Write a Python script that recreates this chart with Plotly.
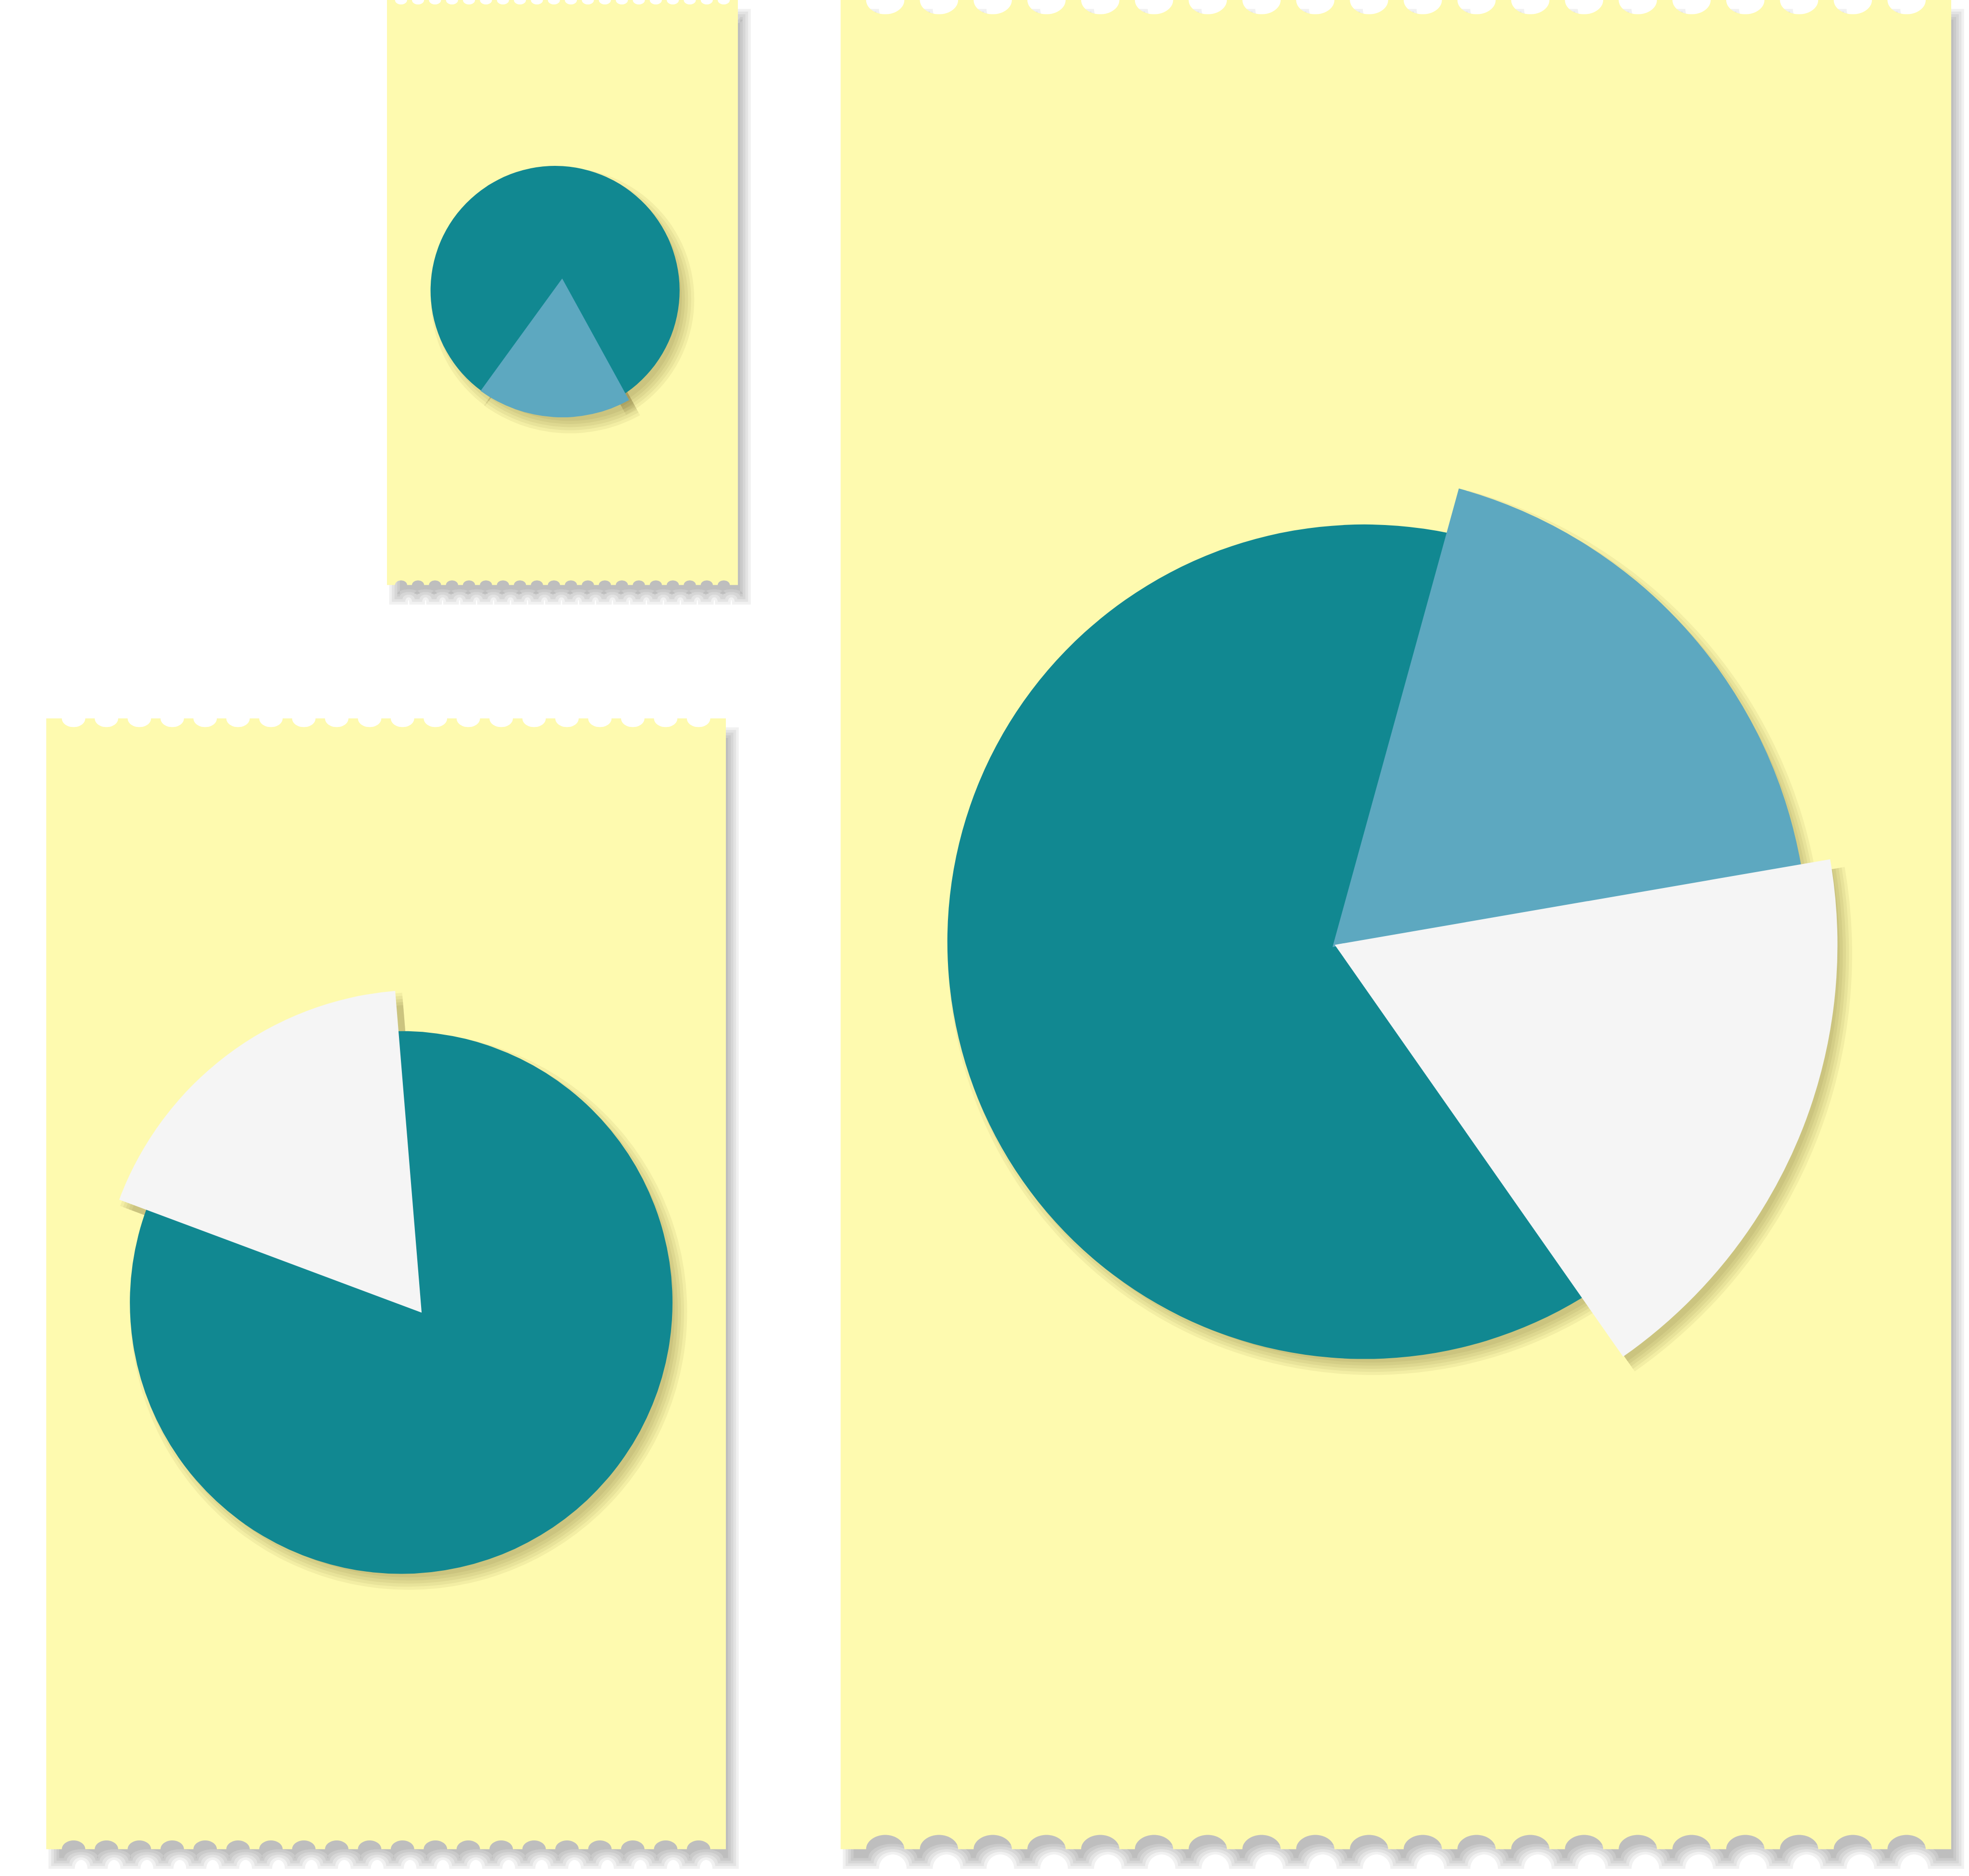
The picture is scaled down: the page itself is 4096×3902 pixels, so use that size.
import numpy as np
import plotly.graph_objects as go

W, H = 4096, 3902
REF_W, REF_H = 4427.0, 4217.3
K = W / REF_W

# ---------------- data ----------------
colors = {"A": "#118891", "B": "#5DA8C0", "C": "#F5F5F5"}

small_cats = ["B", "A"]
small_values = [18, 82]
small_radius = [111.5, 100]

left_cats = ["C", "A"]
left_values = [18, 82]
left_radius = [119, 100]

big_cats = ["B", "C", "A"]
big_values = [18, 18, 64]
big_radius = [114, 120.5, 100]

# ---------------- layout / style ----------------
YELLOW = "#FEFAAF"
RMAX = 130.0
pies = [
    dict(cats=small_cats, values=small_values, radius=small_radius,
         center=(1248, 653), unit=2.8, start=-61.2, apex={"B": (1264, 626)}),
    dict(cats=left_cats, values=left_values, radius=left_radius,
         center=(902, 2928), unit=6.1, start=159.5, apex={"C": (948, 2951)}),
    dict(cats=big_cats, values=big_values, radius=big_radius,
         center=(3068, 2117), unit=9.38, start=74.6,
         apex={"B": (2996, 2129), "C": (3001, 2124)}),
]
panels = [(870, 0, 1659, 1315), (104, 1615, 1632, 4157), (1890, 0, 4387, 4157)]


def px(x, y):
    return f"{x / REF_W:.6f},{1 - y / REF_H:.6f}"


def panel_path(x0, y0, x1, y1, e=0.0, ox=0.0, oy=0.0, n=20):
    w = x1 - x0
    s = w / 20.66
    m = (w - (n - 1) * s) / 2
    rx = 0.356 * s
    ry = 0.265 * s
    rxe = max(rx - e, 1.0)
    X0, X1, Y0, Y1 = x0 - e + ox, x1 + e + ox, y0 - e + oy, y1 + e + oy
    centers = [x0 + m + i * s + ox for i in range(n)]
    pts = [(X0, Y0)]
    t = np.linspace(np.pi, 0, 28)
    for c in centers:
        for tt in t:
            pts.append((c + rxe * np.cos(tt), Y0 + ry * np.sin(tt)))
    pts.append((X1, Y0))
    pts.append((X1, Y1))
    t2 = np.linspace(0, np.pi, 28)
    for c in reversed(centers):
        for tt in t2:
            pts.append((c + rxe * np.cos(tt), Y1 - ry * np.sin(tt)))
    pts.append((X0, Y1))
    return "M " + " L ".join(px(x, y) for x, y in pts) + " Z"


shapes = []
# panel shadows (layered to fake blur)
for (x0, y0, x1, y1) in panels:
    for e in (-12, -6, 0, 6, 12):
        shapes.append(dict(type="path", path=panel_path(x0, y0, x1, y1, e=e, ox=17, oy=32),
                           xref="paper", yref="paper", fillcolor="rgba(0,0,0,0.053)",
                           line=dict(width=0), layer="below"))
for (x0, y0, x1, y1) in panels:
    shapes.append(dict(type="path", path=panel_path(x0, y0, x1, y1),
                       xref="paper", yref="paper", fillcolor=YELLOW,
                       line=dict(width=0), layer="below"))

polar_layouts = {}
counter = [0]


def add_polar(cx, cy, unit):
    counter[0] += 1
    name = "polar" if counter[0] == 1 else f"polar{counter[0]}"
    S = RMAX * unit * K
    X, Y = cx * K, cy * K
    polar_layouts[name] = dict(
        domain=dict(x=[(X - S) / W, (X + S) / W], y=[1 - (Y + S) / H, 1 - (Y - S) / H]),
        bgcolor="rgba(0,0,0,0)",
        barmode="overlay",
        radialaxis=dict(visible=False, range=[0, RMAX], showgrid=False),
        angularaxis=dict(visible=False, rotation=0, direction="counterclockwise", showgrid=False),
        hole=0,
    )
    return name


def slice_geom(p):
    out = []
    ang = p["start"]
    for cat, v, r in zip(p["cats"], p["values"], p["radius"]):
        w = v * 3.6
        theta = ang - w / 2
        ang -= w
        cx, cy = p["apex"].get(cat, p["center"])
        out.append((cat, theta, w, r, cx, cy))
    return out


traces = []
SH_DX, SH_DY = 17, 20
# shadows first
for p in pies:
    for cat, theta, w, r, cx, cy in slice_geom(p):
        name = add_polar(cx + SH_DX, cy + SH_DY, p["unit"])
        for d in (-12, -5, 2, 9, 16):
            traces.append(go.Barpolar(r=[r + d / p["unit"]], theta=[theta], width=[w],
                                      marker=dict(color="rgba(60,55,0,0.058)", line=dict(width=0)),
                                      subplot=name, hoverinfo="skip", showlegend=False))
# main slices: teal first, then highlighted slices
for p in pies:
    geo = slice_geom(p)
    geo = [g for g in geo if g[0] == "A"] + [g for g in geo if g[0] != "A"]
    for cat, theta, w, r, cx, cy in geo:
        name = add_polar(cx, cy, p["unit"])
        traces.append(go.Barpolar(r=[r], theta=[theta], width=[w],
                                  marker=dict(color=colors[cat], line=dict(width=0)),
                                  subplot=name, hoverinfo="skip", showlegend=False))

fig = go.Figure(data=traces)
fig.update_layout(width=W, height=H, margin=dict(l=0, r=0, t=0, b=0),
                  paper_bgcolor="white", plot_bgcolor="white", showlegend=False,
                  shapes=shapes, **polar_layouts)
fig.write_html("out.html", config={"displayModeBar": False})
